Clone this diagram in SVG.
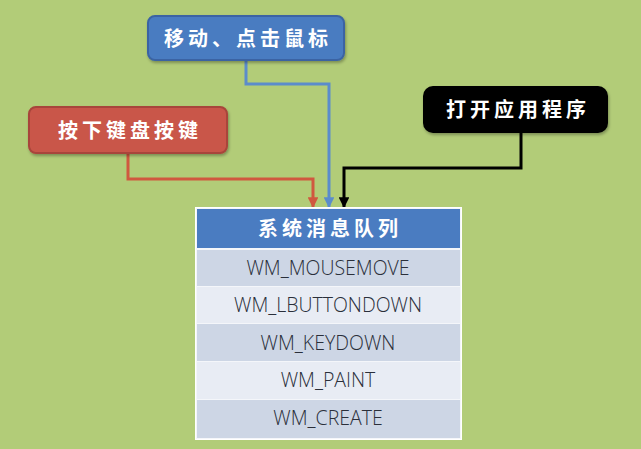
<svg xmlns="http://www.w3.org/2000/svg" width="641" height="449" viewBox="0 0 641 449">
<defs>
<style>
.cn{font-family:"Noto Sans CJK SC","Noto Sans",sans-serif;font-weight:bold;font-size:20px;fill:#ffffff;text-anchor:middle;letter-spacing:4px}
.row{font-family:"Open Sans","Liberation Sans",sans-serif;font-size:19.5px;font-weight:300;fill:#2a2f3a;text-anchor:middle}
.conn{fill:none;stroke-width:3;stroke-linejoin:miter}
</style>
<marker id="arR" viewBox="0 0 10 10" refX="10" refY="5" markerWidth="3.6" markerHeight="3.6" orient="auto" markerUnits="strokeWidth"><path d="M0,0 L10,5 L0,10 z" fill="#d0583f"/></marker>
<marker id="arB" viewBox="0 0 10 10" refX="10" refY="5" markerWidth="3.6" markerHeight="3.6" orient="auto" markerUnits="strokeWidth"><path d="M0,0 L10,5 L0,10 z" fill="#5b8ccb"/></marker>
<marker id="arK" viewBox="0 0 10 10" refX="10" refY="5" markerWidth="3.6" markerHeight="3.6" orient="auto" markerUnits="strokeWidth"><path d="M0,0 L10,5 L0,10 z" fill="#000"/></marker>
<filter id="sh" x="-10%" y="-10%" width="130%" height="140%"><feDropShadow dx="1" dy="2" stdDeviation="1.5" flood-color="#000" flood-opacity="0.3"/></filter>
</defs>
<rect width="641" height="449" fill="#b2cc78"/>
<g id="connectors">
<path class="conn" d="M128,153 V179 H313 V208" stroke="#d0583f" marker-end="url(#arR)"/>
<path class="conn" d="M246,60 V84 H329 V208" stroke="#5b8ccb" marker-end="url(#arB)"/>
<path class="conn" d="M521,133 V168 H344 V208" stroke="#000" marker-end="url(#arK)"/>
</g>
<g id="mouse">
<rect x="148" y="16" width="196" height="44" rx="7" fill="#4a7cc1" stroke="#3a64a3" stroke-width="2" filter="url(#sh)"/>
<text class="cn" x="248" y="46">移动、点击鼠标</text>
</g>
<g id="keyboard">
<rect x="29" y="107" width="198" height="46" rx="7" fill="#c9574a" stroke="#a8443a" stroke-width="2" filter="url(#sh)"/>
<text class="cn" x="130" y="138">按下键盘按键</text>
</g>
<g id="app">
<rect x="423" y="86" width="185" height="47" rx="10" fill="#000" filter="url(#sh)"/>
<text class="cn" x="518" y="117">打开应用程序</text>
</g>
<g id="queue">
<rect x="195.5" y="207.5" width="266" height="232" fill="#f4f6fa" stroke="#ffffff" stroke-width="1"/>
<rect x="197" y="209" width="263" height="39" fill="#4a7cc1"/>
<text class="cn" x="330" y="236">系统消息队列</text>
<rect x="197" y="250" width="263" height="36" fill="#cdd6e5"/>
<rect x="197" y="287" width="263" height="36" fill="#e8ecf4"/>
<rect x="197" y="324" width="263" height="37" fill="#cdd6e5"/>
<rect x="197" y="362" width="263" height="37" fill="#e8ecf4"/>
<rect x="197" y="400" width="263" height="38" fill="#cdd6e5"/>
<text class="row" x="328" y="275">WM_MOUSEMOVE</text>
<text class="row" x="328" y="312">WM_LBUTTONDOWN</text>
<text class="row" x="328" y="350">WM_KEYDOWN</text>
<text class="row" x="328" y="387">WM_PAINT</text>
<text class="row" x="328" y="425">WM_CREATE</text>
</g>
</svg>
